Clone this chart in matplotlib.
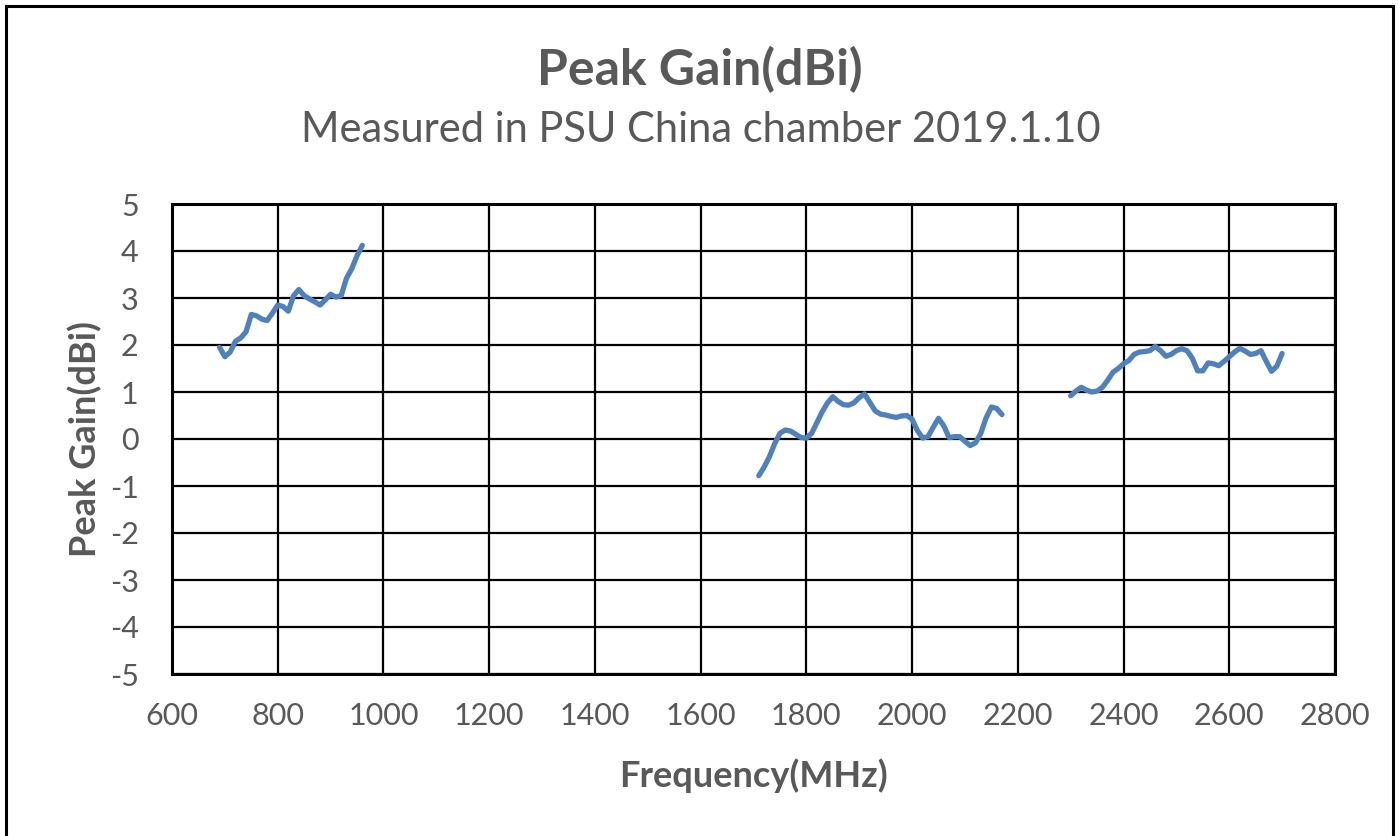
import matplotlib
matplotlib.use('Agg')
import matplotlib.pyplot as plt
from matplotlib.patches import Rectangle

plt.rcParams['font.family'] = ['Lato', 'DejaVu Sans']
plt.rcParams['axes.unicode_minus'] = False

# band 1: 690-960 MHz
freq_low = list(range(690, 961, 10))
gain_low = [1.95, 1.75, 1.85, 2.08, 2.15, 2.28, 2.65, 2.62, 2.55, 2.52,
            2.68, 2.85, 2.82, 2.72, 3.05, 3.18, 3.05, 2.98, 2.92, 2.85,
            2.96, 3.08, 3.02, 3.05, 3.42, 3.62, 3.90, 4.12]

# band 2: 1710-2170 MHz
freq_mid = list(range(1710, 2171, 10))
gain_mid = [-0.78, -0.60, -0.38, -0.10, 0.12, 0.19, 0.17, 0.10, 0.03, 0.02,
            0.12, 0.35, 0.58, 0.77, 0.90, 0.80, 0.73, 0.72, 0.77, 0.88,
            0.96, 0.78, 0.60, 0.53, 0.51, 0.48, 0.46, 0.49, 0.50, 0.42,
            0.18, 0.02, 0.05, 0.25, 0.44, 0.28, 0.03, 0.05, 0.05, -0.05,
            -0.14, -0.08, 0.12, 0.45, 0.68, 0.65, 0.52]

# band 3: 2300-2700 MHz
freq_high = list(range(2300, 2701, 10))
gain_high = [0.92, 1.02, 1.10, 1.04, 1.00, 1.02, 1.10, 1.25, 1.42, 1.50,
             1.60, 1.67, 1.80, 1.85, 1.86, 1.88, 1.97, 1.88, 1.76, 1.80,
             1.88, 1.92, 1.88, 1.72, 1.45, 1.45, 1.62, 1.60, 1.56, 1.65,
             1.75, 1.85, 1.93, 1.87, 1.80, 1.82, 1.88, 1.65, 1.44, 1.55,
             1.82]

x_ticks = list(range(600, 2801, 200))
y_ticks = list(range(-5, 6))

text_color = '#595959'
line_color = '#4F81BD'

W, H = 1398, 836
fig = plt.figure(figsize=(W / 100, H / 100), dpi=100)
ax = fig.add_axes([172 / W, 1 - 674 / H, (1335 - 172) / W, (674 - 204) / H])

for f, g in [(freq_low, gain_low), (freq_mid, gain_mid), (freq_high, gain_high)]:
    ax.plot(f, g, color=line_color, linewidth=3.8, solid_capstyle='round',
            solid_joinstyle='round')

ax.set_xlim(600, 2800)
ax.set_ylim(-5, 5)
ax.set_xticks(x_ticks)
ax.set_yticks(y_ticks)
ax.grid(True, color='black', linewidth=1.6)
ax.set_axisbelow(True)
for sp in ax.spines.values():
    sp.set_color('black')
    sp.set_linewidth(2.2)
ax.tick_params(length=0, labelsize=22, labelcolor=text_color)
ax.tick_params(axis='x', pad=20)
ax.tick_params(axis='y', pad=24)

fig.text(700 / W, 1 - 70 / H, 'Peak Gain(dBi)', ha='center', va='center',
         fontsize=36, fontweight='bold', color=text_color)
fig.text(701 / W, 1 - 130 / H, 'Measured in PSU China chamber 2019.1.10',
         ha='center', va='center', fontsize=30, color=text_color)
fig.text(754 / W, 1 - 776 / H, 'Frequency(MHz)', ha='center', va='center',
         fontsize=26, fontweight='bold', color=text_color)
fig.text(85 / W, 1 - 439 / H, 'Peak Gain(dBi)', ha='center', va='center',
         rotation=90, fontsize=26, fontweight='bold', color=text_color)

# outer chart frame
fig.patches.append(Rectangle((6 / W, -0.05), (1393 - 6) / W, 1.05 - 6 / H,
                             transform=fig.transFigure, fill=False,
                             edgecolor='black', linewidth=2.2))

fig.savefig('out.png', dpi=100)
